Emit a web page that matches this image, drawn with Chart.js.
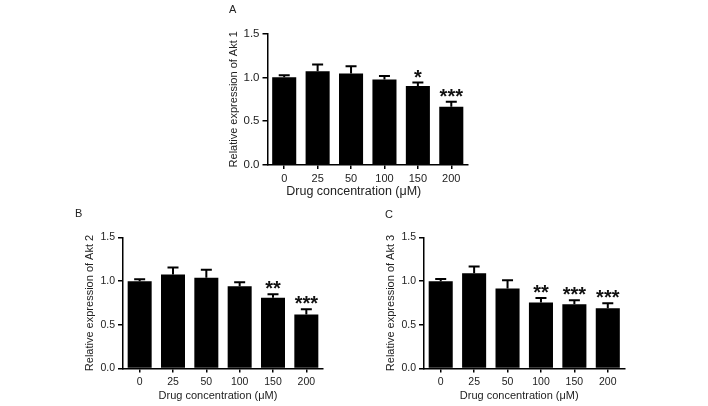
<!DOCTYPE html>
<html>
<head>
<meta charset="utf-8">
<script src="https://cdn.jsdelivr.net/npm/chart.js@4/dist/chart.umd.min.js"></script>
<style>
  html, body { margin: 0; padding: 0; background: #fff; }
  #wrap { position: relative; width: 708px; height: 406px; overflow: hidden; }
  #wrap canvas { position: absolute; left: 0; top: 0; }
  .panel-label { position: absolute; font: 11px Arial, "Liberation Sans", sans-serif; color: #222; line-height: 12px; }
</style>
</head>
<body>
<div id="wrap">
  <canvas id="chartA" width="708" height="406"></canvas>
  <canvas id="chartB" width="708" height="406"></canvas>
  <canvas id="chartC" width="708" height="406"></canvas>
  <div class="panel-label" style="left:229px; top:3px;">A</div>
  <div class="panel-label" style="left:75px; top:207px;">B</div>
  <div class="panel-label" style="left:385px; top:208px;">C</div>
</div>
<script>
// Data
const doses = ['0', '25', '50', '100', '150', '200'];
const yMax = 1.5;
const yStep = 0.5;

const akt1Mean = [1.00, 1.07, 1.045, 0.975, 0.90, 0.665];
const akt1Err  = [0.025, 0.077, 0.082, 0.041, 0.041, 0.056];
const akt1Sig  = ['', '', '', '', '*', '***'];

const akt2Mean = [1.00, 1.076, 1.038, 0.943, 0.809, 0.619];
const akt2Err  = [0.023, 0.081, 0.092, 0.045, 0.042, 0.06];
const akt2Sig  = ['', '', '', '', '**', '***'];

const akt3Mean = [1.00, 1.09, 0.915, 0.757, 0.735, 0.69];
const akt3Err  = [0.025, 0.077, 0.095, 0.05, 0.047, 0.057];
const akt3Sig  = ['', '', '', '**', '***', '***'];

const xTitle = 'Drug concentration (\u03bcM)';

const FONT = 'Arial, "Liberation Sans", sans-serif';
Chart.defaults.font.family = FONT;
Chart.defaults.font.size = 11;
Chart.defaults.color = '#222';

// draws upper error bars, significance stars and the x axis title
const errorBarPlugin = {
    id: 'errorBars',
    afterDatasetsDraw(chart, args, opts) {
        const { ctx } = chart;
        const x = chart.scales.x;
        const y = chart.scales.y;
        const meta = chart.getDatasetMeta(0);
        const values = chart.data.datasets[0].data;
        ctx.save();
        ctx.strokeStyle = '#000';
        ctx.fillStyle = '#111';
        ctx.lineWidth = 2;
        ctx.font = 'bold 20px ' + FONT;
        ctx.textAlign = 'center';
        ctx.textBaseline = 'alphabetic';
        meta.data.forEach((bar, i) => {
            const v = values[i];
            const top = y.getPixelForValue(v + opts.errors[i]);
            const base = y.getPixelForValue(v);
            ctx.beginPath();
            ctx.moveTo(bar.x, base);
            ctx.lineTo(bar.x, top);
            ctx.moveTo(bar.x - 5.5, top);
            ctx.lineTo(bar.x + 5.5, top);
            ctx.stroke();
            const mark = opts.marks[i];
            if (mark) {
                const m = ctx.measureText(mark);
                ctx.fillText(mark, bar.x, top - 5 - m.actualBoundingBoxDescent);
            }
        });

        // x title, slightly left of centre as in the figure
        ctx.fillStyle = '#222';
        ctx.font = opts.titleSize + 'px ' + FONT;
        ctx.textBaseline = 'middle';
        ctx.fillText(xTitle, (x.left + x.right) / 2 + opts.titleShift, x.top + opts.titleDrop);
        ctx.restore();
    }
};

function makePanel(id, mean, err, sig, yTitle, area, txt) {
    const yW = 40, xH = 34;
    return new Chart(document.getElementById(id), {
        type: 'bar',
        data: {
            labels: doses,
            datasets: [{
                data: mean,
                backgroundColor: '#000',
                borderWidth: 0,
                barPercentage: 0.72,
                categoryPercentage: 1.0
            }]
        },
        options: {
            responsive: false,
            animation: false,
            events: [],
            layout: {
                padding: {
                    left: area.left - yW,
                    top: area.top,
                    right: 708 - area.right,
                    bottom: 406 - area.bottom - xH
                }
            },
            plugins: {
                legend: { display: false },
                tooltip: { enabled: false },
                errorBars: { errors: err, marks: sig, titleSize: txt.title, titleShift: txt.shift, titleDrop: 27 }
            },
            scales: {
                x: {
                    afterFit: (s) => { s.height = xH; },
                    grid: { display: true, drawOnChartArea: false, offset: false, tickLength: 4, color: '#000', lineWidth: 1.5 },
                    border: { display: true, color: '#000', width: 1.5 },
                    ticks: { padding: 3, color: '#222', maxRotation: 0, font: { size: txt.xTick } }
                },
                y: {
                    min: 0,
                    max: yMax,
                    afterFit: (s) => { s.width = yW; },
                    grid: { display: true, drawOnChartArea: false, tickLength: 5, color: '#000', lineWidth: 1.5 },
                    border: { display: true, color: '#000', width: 1.5 },
                    ticks: { stepSize: yStep, padding: 3, color: '#222', font: { size: txt.yTick }, callback: (v) => v.toFixed(1) },
                    title: { display: true, text: yTitle, padding: 0, font: { size: 11 } }
                }
            }
        },
        plugins: [errorBarPlugin]
    });
}

makePanel('chartA', akt1Mean, akt1Err, akt1Sig, 'Relative expression of Akt 1',
    { left: 267.5, right: 468, top: 33.5, bottom: 165 },
    { title: 12.5, shift: -14, xTick: 11, yTick: 11.5 });
makePanel('chartB', akt2Mean, akt2Err, akt2Sig, 'Relative expression of Akt 2',
    { left: 123, right: 323, top: 237.5, bottom: 368.5 },
    { title: 11, shift: -5, xTick: 10.5, yTick: 10.5 });
makePanel('chartC', akt3Mean, akt3Err, akt3Sig, 'Relative expression of Akt 3',
    { left: 424, right: 624.5, top: 237.5, bottom: 368.5 },
    { title: 11, shift: -5, xTick: 10.5, yTick: 10.5 });
</script>
</body>
</html>
